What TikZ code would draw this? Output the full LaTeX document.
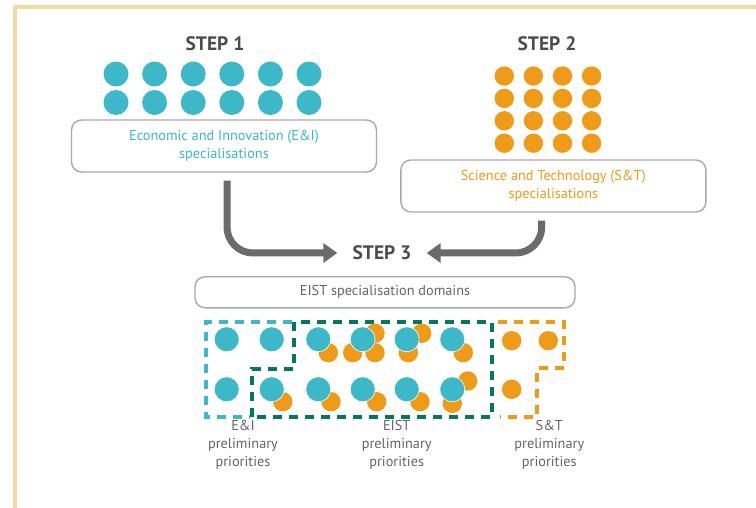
\documentclass[tikz,border=0pt]{standalone}
\usepackage{fontspec}
\setmainfont{PT Sans}
\usetikzlibrary{arrows.meta}
\definecolor{eiteal}{HTML}{3DB8C8}
\definecolor{storange}{HTML}{EF9B18}
\definecolor{eistgreen}{HTML}{00785C}
\definecolor{arrowgray}{HTML}{6B6B6B}
\definecolor{stepgray}{HTML}{4C4C4C}
\definecolor{boxgray}{HTML}{A9A9A9}
\definecolor{textgray}{HTML}{666666}
\definecolor{framegold}{HTML}{F5DC9E}

\begin{document}
\begin{tikzpicture}[x=1pt,y=-1pt,
        steplabel/.style={font=\bfseries\fontsize{19.5}{22}\selectfont, text=stepgray, inner sep=0pt},
        specbox/.style={draw=boxgray, line width=1.4pt, rounded corners=10pt, fill=white,
            align=center, font=\fontsize{14.3}{18}\selectfont},
        flow/.style={draw=arrowgray, line width=7pt, rounded corners=26pt, shorten <=8pt,
            -{Triangle[width=19pt,length=14pt]}},
        region/.style={line width=3.5pt, dash pattern=on 9pt off 7pt},
        prio/.style={align=center, text=textgray, font=\fontsize{14.3}{18}\selectfont}]
        \useasboundingbox (0,0) rectangle (756,508);
        \fill[white] (0,0) rectangle (756,508);
        \draw[framegold, line width=4pt] (14.5,508) -- (14.5,7.5) -- (756,7.5);

        % step 1
        \node[steplabel] (step1) at (215,44) {STEP 1};
        \foreach \i in {0,...,5}
        \foreach \y in {74,102.5}
        \fill[eiteal] (116+38.6*\i,\y) circle (12.5pt);
        \node[specbox, text=eiteal, minimum width=305pt, minimum height=52pt] (eibox) at (224,146)
            {Economic and Innovation (E\&I)\\specialisations};

        % step 2
        \node[steplabel] (step2) at (547,44) {STEP 2};
        \foreach \i in {0,...,3}
        \foreach \j in {0,...,3}
        \fill[storange] (504.3+29.1*\i,76+22.4*\j) circle (9.7pt);
        \node[specbox, text=storange, minimum width=305pt, minimum height=52pt] (stbox) at (553.4,186)
            {Science and Technology (S\&T)\\specialisations};

        % step 3
        \node[steplabel, minimum width=89pt] (step3) at (382,253) {STEP 3};
        \draw[flow] ([xshift=3pt]eibox.south) |- (step3.west);
        \draw[flow] ([xshift=-11.7pt]stbox.south) |- (step3.east);
        \node[specbox, text=textgray, minimum width=380pt, minimum height=31pt] (eistbox) at (385,292.3)
            {EIST specialisation domains};

        % preliminary priorities
        \draw[region, eiteal] (292,322) -- (206,322) -- (206,417) -- (250,417);
        \draw[region, eistgreen] (252,417) -- (252,369) -- (294,369) -- (294,322) -- (492,322)
            -- (492,417) -- cycle;
        \draw[region, storange] (498,322) -- (564,322) -- (564,368) -- (537,368) -- (537,417) -- (500,417);
        \foreach \x/\y in {328.3/352.7, 352.7/352.7, 375/333.3, 375/352.7, 421.7/333.3, 408.3/352.7,
            463.3/352.7, 282.7/401.7, 331/401.7, 376.7/401.7, 420/401.7, 467.7/381, 452.3/403.3,
            511.7/340.7, 548.3/340.7, 511.7/389.3}
        \fill[storange] (\x,\y) circle (9.7pt);
        \foreach \x in {226.7,271.7,318.3,362.7,406.7,452.3}
        \foreach \y in {339.3,389.3}
        \filldraw[fill=eiteal, draw=white, line width=0.6pt] (\x,\y) circle (12.5pt);

        \node[prio] (eiprio) at (243,445) {E\&I\\preliminary\\priorities};
        \node[prio] (eistprio) at (396.7,445) {EIST\\preliminary\\priorities};
        \node[prio] (stprio) at (549.3,445) {S\&T\\preliminary\\priorities};
    \end{tikzpicture}
\end{document}
